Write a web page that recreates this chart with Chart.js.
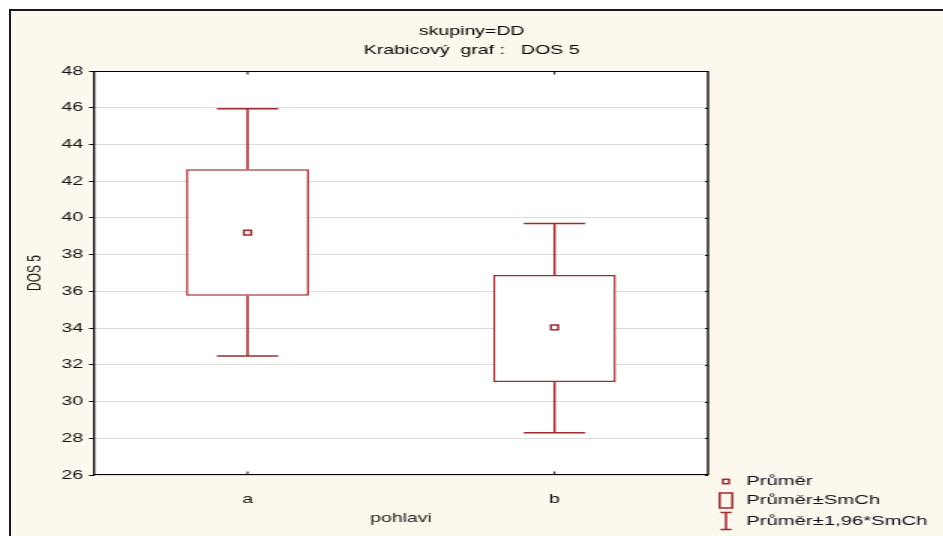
<!DOCTYPE html>
<html lang="cs">
<head>
  <title>Krabicový graf: DOS 5</title>
  <meta charset="utf-8">
  <script src="https://cdn.jsdelivr.net/npm/chart.js@4.4.1/dist/chart.umd.min.js"></script>
  <style>
    html, body { margin: 0; padding: 0; background: #fff; overflow: hidden; }
    body { width: 943px; height: 536px; position: relative; }
    /* cream panel with the dark frame on left/top */
    #frame {
      position: absolute; left: 9px; top: 9px; width: 1000px; height: 600px;
      border-left: 2px solid #1a1a1a; border-top: 2px solid #1a1a1a;
      background: #fdf8ed;
    }
    /* the original export is stretched sideways, so draw narrow and widen it */
    #wrap {
      position: absolute; left: 0; top: 0; width: 629px; height: 536px;
      transform: scaleX(1.5); transform-origin: 0 0;
    }
  </style>
</head>
<body>
<div id="frame"></div>
<div id="wrap"><canvas id="chart"></canvas></div>

<script>
  // data
  const groups = ["a", "b"];
  const means = [39.2, 34.04];
  const seLow = [35.76, 31.06];    // Průměr - SmCh
  const seHigh = [42.65, 36.89];   // Průměr + SmCh
  const ciLow = [32.48, 28.3];     // Průměr - 1,96*SmCh
  const ciHigh = [45.95, 39.69];   // Průměr + 1,96*SmCh

  const titleLines = ["skupiny=DD", "Krabicový  graf :   DOS 5"];
  const legendLabels = ["Průměr", "Průměr±SmCh", "Průměr±1,96*SmCh"];

  const red = "#9e2a2f";
  const font = "'Liberation Sans', Arial, sans-serif";

  // white plot background, frame, inner ticks, whiskers, titles, legend
  const extras = {
    id: "extras",
    beforeDraw(chart) {
      const ctx = chart.ctx, a = chart.chartArea;
      ctx.save();
      ctx.fillStyle = "#fff";
      ctx.fillRect(a.left, a.top, a.right - a.left, a.bottom - a.top);
      ctx.restore();
    },
    beforeDatasetsDraw(chart) {
      const ctx = chart.ctx;
      const x = chart.scales.x, y = chart.scales.y;
      const catW = (x.right - x.left) / groups.length;
      ctx.save();
      ctx.strokeStyle = red;
      ctx.lineWidth = 1.5;
      for (let i = 0; i < groups.length; i++) {
        const cx = x.getPixelForValue(i);
        const half = catW * 0.1;
        ctx.beginPath();
        ctx.moveTo(cx, y.getPixelForValue(seHigh[i]));
        ctx.lineTo(cx, y.getPixelForValue(ciHigh[i]));
        ctx.moveTo(cx - half, y.getPixelForValue(ciHigh[i]));
        ctx.lineTo(cx + half, y.getPixelForValue(ciHigh[i]));
        ctx.moveTo(cx, y.getPixelForValue(seLow[i]));
        ctx.lineTo(cx, y.getPixelForValue(ciLow[i]));
        ctx.moveTo(cx - half, y.getPixelForValue(ciLow[i]));
        ctx.lineTo(cx + half, y.getPixelForValue(ciLow[i]));
        ctx.stroke();
      }
      ctx.restore();
    },
    afterDraw(chart) {
      const ctx = chart.ctx, a = chart.chartArea;
      const x = chart.scales.x, y = chart.scales.y;
      ctx.save();
      // plot frame: horizontal edges 1px, vertical edges ~2px after stretching
      ctx.strokeStyle = "#000";
      const top = Math.round(a.top) + 0.5, bot = Math.round(a.bottom) - 0.5;
      ctx.lineWidth = 1;
      ctx.beginPath();
      ctx.moveTo(a.left, top); ctx.lineTo(a.right, top);
      ctx.moveTo(a.left, bot); ctx.lineTo(a.right, bot);
      ctx.stroke();
      ctx.lineWidth = 1.34;
      ctx.beginPath();
      ctx.moveTo(a.left, top - 0.5); ctx.lineTo(a.left, bot + 0.5);
      ctx.moveTo(a.right, top - 0.5); ctx.lineTo(a.right, bot + 0.5);
      ctx.stroke();
      // small inner ticks
      ctx.lineWidth = 1;
      ctx.beginPath();
      y.ticks.forEach(t => {
        const py = Math.round(y.getPixelForValue(t.value)) + 0.5;
        ctx.moveTo(a.right, py);
        ctx.lineTo(a.right - 2, py);
      });
      groups.forEach((g, i) => {
        const px = x.getPixelForValue(i);
        ctx.moveTo(px, top);
        ctx.lineTo(px, top + 3);
        ctx.moveTo(px, bot);
        ctx.lineTo(px, bot - 3);
      });
      ctx.stroke();

      // titles
      ctx.fillStyle = "#000";
      ctx.font = "13px " + font;
      ctx.textAlign = "center";
      ctx.textBaseline = "middle";
      ctx.fillText(titleLines[0], chart.width / 2, 31);
      ctx.fillText(titleLines[1], chart.width / 2, 50);

      // legend
      const lx = 484, tx = 497.5;
      const rows = [481.5, 500.5, 521];
      ctx.strokeStyle = red;
      ctx.lineWidth = 1.5;
      ctx.fillStyle = "#fff";
      ctx.fillRect(lx - 2, rows[0] - 2.2, 4, 4.4);
      ctx.strokeRect(lx - 2, rows[0] - 2.2, 4, 4.4);
      ctx.strokeRect(lx - 4.2, rows[1] - 7.5, 8.4, 15);
      ctx.beginPath();
      ctx.moveTo(lx - 3.7, rows[2] - 8.5); ctx.lineTo(lx + 3.7, rows[2] - 8.5);
      ctx.moveTo(lx, rows[2] - 8.5); ctx.lineTo(lx, rows[2] + 8.5);
      ctx.moveTo(lx - 3.7, rows[2] + 8.5); ctx.lineTo(lx + 3.7, rows[2] + 8.5);
      ctx.stroke();
      ctx.fillStyle = "#0d0d1a";
      ctx.font = "13.5px " + font;
      ctx.textAlign = "left";
      legendLabels.forEach((l, i) => ctx.fillText(l, tx, rows[i]));
      ctx.restore();
    }
  };

  new Chart(document.getElementById("chart"), {
    data: {
      labels: groups,
      datasets: [{
        type: "line",
        label: legendLabels[0],
        data: means,
        showLine: false,
        pointStyle: "rect",
        pointRadius: 3.4,
        pointBorderWidth: 1.5,
        pointBorderColor: red,
        pointBackgroundColor: "#fff"
      }, {
        type: "bar",
        label: legendLabels[1],
        data: groups.map((g, i) => [seLow[i], seHigh[i]]),
        backgroundColor: "#fff",
        borderColor: red,
        borderWidth: 1.5,
        borderSkipped: false,
        barPercentage: 0.4,
        categoryPercentage: 1
      }]
    },
    options: {
      responsive: true,
      maintainAspectRatio: false,
      animation: false,
      layout: { padding: { left: 0, right: 157, top: 71, bottom: 0 } },
      plugins: {
        legend: { display: false },
        tooltip: { enabled: false }
      },
      scales: {
        x: {
          type: "category",
          offset: true,
          grid: { display: false },
          border: { display: false },
          ticks: { color: "#111", font: { family: font, size: 13 }, padding: 9 },
          title: {
            display: true, text: "pohlavi", color: "#222",
            font: { family: font, size: 13 }, padding: { top: 0, bottom: 10 }
          },
          afterFit(s) { s.height = 61; }
        },
        y: {
          min: 26,
          max: 48,
          ticks: { stepSize: 2, color: "#111", font: { family: font, size: 13 }, padding: 4 },
          grid: { color: "#dcdcdc", tickColor: "#000", tickLength: 3.3 },
          border: { display: false },
          title: {
            display: true, text: "DOS 5", color: "#111",
            font: { family: font, size: 12 }, padding: { top: 16, bottom: 0 }
          },
          afterFit(s) { s.width = 62.7; }
        }
      }
    },
    plugins: [extras]
  });
</script>
</body>
</html>
